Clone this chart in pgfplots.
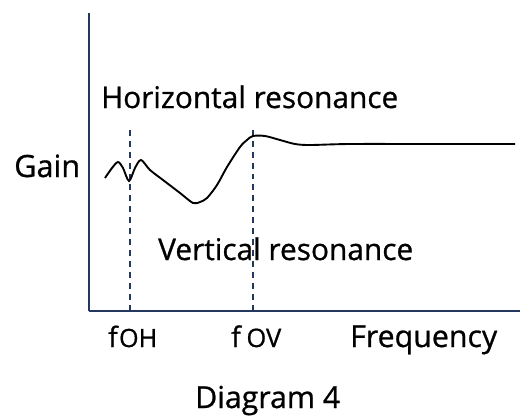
\documentclass[border=0pt]{standalone}
\usepackage{pgfplots}
\pgfplotsset{compat=1.18}
\usepackage{fontspec}
\setmainfont{Open Sans}[FakeBold=0.8]
\definecolor{axc}{RGB}{35,55,95}
\begin{document}
\begin{tikzpicture}[x=1bp,y=1bp]
\useasboundingbox (0,0) rectangle (520,418);
\begin{axis}[
  at={(89bp,107bp)}, anchor=south west,
  scale only axis, width=431bp, height=298bp,
  xmin=89, xmax=520, ymin=107, ymax=405,
  axis x line=bottom, axis y line=left,
  axis line style={draw=axc, line width=1.3pt, -},
  xtick=\empty, ytick=\empty,
  clip=false,
]
% dashed resonance markers
\addplot[draw=axc, line width=1.2pt, dash pattern=on 6pt off 5pt] coordinates {(130,107) (130,289)};
\addplot[draw=axc, line width=1.2pt, dash pattern=on 6pt off 5pt] coordinates {(253,107) (253,291)};
% gain curve
\addplot[black, line width=1.9pt, smooth, tension=0.5] coordinates {
(105,240) (112,250) (118,256) (123,250) (129,237) (135,250) (141,258)
(150,248) (163,238) (180,225) (193,215) (200,216) (207,220) (217,233)
(227,251) (240,271) (247,278) (253,282) (265,282) (280,278) (295,274)
(310,273) (350,274) (430,274) (515,274)};
\node[anchor=base west, inner sep=0] at (axis cs:158,158) {\resizebox{255bp}{!}{Vertical resonance}};
\node[anchor=base west, inner sep=0] at (axis cs:101,310) {\resizebox{297bp}{!}{Horizontal resonance}};
\node[anchor=base west, inner sep=0] at (axis cs:14,241) {\resizebox{66bp}{!}{Gain}};
\node[anchor=base west, inner sep=0] at (axis cs:108,71) {\resizebox{49bp}{!}{f\kern0.5pt{\fontsize{9}{10}\selectfont OH}}};
\node[anchor=base west, inner sep=0] at (axis cs:231,71) {\resizebox{50bp}{!}{f\kern2pt{\fontsize{9}{10}\selectfont OV}}};
\node[anchor=base west, inner sep=0] at (axis cs:350,71) {\resizebox{147bp}{!}{Frequency}};
\node[anchor=base west, inner sep=0] at (axis cs:195,10) {\resizebox{145bp}{!}{Diagram 4}};
\end{axis}
\end{tikzpicture}
\end{document}
